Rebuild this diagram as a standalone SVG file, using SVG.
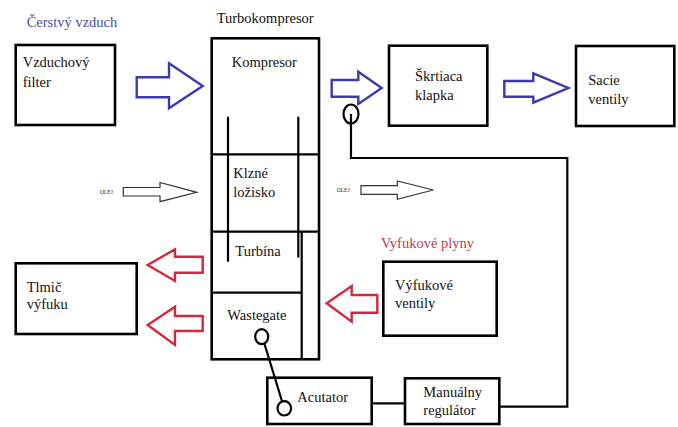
<svg xmlns="http://www.w3.org/2000/svg" width="678" height="427" viewBox="0 0 678 427">
<style>
.box{fill:none;stroke:#000;stroke-width:2.6}
.ln{fill:none;stroke:#000;stroke-width:2.2}
.t{font-family:'Liberation Serif','DejaVu Serif','Times New Roman',serif;font-size:14.5px;fill:#111}
.small{font-family:'Liberation Serif','DejaVu Serif',serif;font-size:5.5px;fill:#222}
.blue{fill:#fff;stroke:#3a3aae;stroke-width:2.4;stroke-linejoin:miter}
.red{fill:#fff;stroke:#d02a3c;stroke-width:2.4;stroke-linejoin:miter}
.oil{fill:#fff;stroke:#333;stroke-width:1.2}
.ring{fill:none;stroke:#000;stroke-width:2.2}
</style>
<rect width="678" height="427" fill="#fff"/>
<text class="t" x="26.7" y="27.3" style="fill:#4b4ba8">Čerstvý vzduch</text>
<text class="t" x="216.7" y="22.7">Turbokompresor</text>
<text class="t" x="381" y="248.3" style="fill:#c23a4a">Vyfukové plyny</text>
<g id="vzduchovy-filter">
<rect class="box" x="15.7" y="45" width="99.3" height="80"/>
<text class="t" x="22.7" y="66.7">Vzduchový</text>
<text class="t" x="22.7" y="87.3">filter</text>
</g>
<g id="turbokompresor">
<rect class="box" x="211.7" y="38.3" width="107.3" height="321"/>
<line class="ln" x1="211.7" y1="154.3" x2="319" y2="154.3"/>
<line class="ln" x1="211.7" y1="231.7" x2="319" y2="231.7"/>
<line class="ln" x1="228" y1="116.7" x2="228" y2="261.7"/>
<line class="ln" x1="298.3" y1="116.7" x2="298.3" y2="257.5"/>
<line class="ln" x1="211.7" y1="292.7" x2="301.7" y2="292.7"/>
<line class="ln" x1="301.7" y1="231.7" x2="301.7" y2="359.3"/>
<text class="t" x="231.7" y="67">Kompresor</text>
<text class="t" x="233.3" y="177.5">Klzné</text>
<text class="t" x="233.3" y="196.5">ložisko</text>
<text class="t" x="235.3" y="256.3">Turbína</text>
<text class="t" x="227.3" y="320">Wastegate</text>
</g>
<g id="skrtiaca-klapka">
<rect class="box" x="389" y="45.7" width="98.3" height="80"/>
<text class="t" x="415" y="81">Škrtiaca</text>
<text class="t" x="415" y="100">klapka</text>
</g>
<g id="sacie-ventily">
<rect class="box" x="576" y="46" width="98.3" height="80"/>
<text class="t" x="588.3" y="85">Sacie</text>
<text class="t" x="588.3" y="104">ventily</text>
</g>
<g id="tlmic-vyfuku">
<rect class="box" x="15.7" y="263.3" width="121" height="70.7"/>
<text class="t" x="26.7" y="291.7">Tlmič</text>
<text class="t" x="26.7" y="309.3">výfuku</text>
</g>
<g id="vyfukove-ventily">
<rect class="box" x="383.3" y="261.7" width="113.4" height="74"/>
<text class="t" x="395" y="290">Výfukové</text>
<text class="t" x="395" y="308.3">ventily</text>
</g>
<g id="acutator">
<rect class="box" x="267.3" y="377.7" width="104.4" height="46.3"/>
<text class="t" x="297.3" y="401.7">Acutator</text>
</g>
<g id="manualny-regulator">
<rect class="box" x="405" y="378.3" width="94.3" height="45.7"/>
<text class="t" x="423.3" y="396.7">Manuálny</text>
<text class="t" x="423.3" y="415">regulátor</text>
</g>
<g id="oil-labels">
<text class="small" x="100" y="194">OLEJ</text>
<text class="small" x="336.7" y="192">OLEJ</text>
</g>
<g id="connectors">
<polygon class="blue" points="136.7,77.3 169,77.3 169,63.3 202.7,86 169,108.3 169,97.3 136.7,97.3"/>
<polygon class="blue" points="331.7,80 358.3,80 358.3,71.7 381.7,88 358.3,104 358.3,96.7 331.7,96.7"/>
<polygon class="blue" points="504.3,81 533.3,81 533.3,73.3 568.3,88 533.3,102.7 533.3,96.7 504.3,96.7"/>
<polygon class="oil" points="123.3,187.5 160,187.5 160,182.5 196.7,192.3 160,201.7 160,196 123.3,196"/>
<polygon class="oil" points="361,185.7 397.3,185.7 397.3,181 433.3,190 397.3,199.3 397.3,194.3 361,194.3"/>
<polygon class="red" points="202.7,256.7 175,256.7 175,249.3 147.7,265 175,281 175,272.7 202.7,272.7"/>
<polygon class="red" points="202.7,316 175,316 175,306.7 147.7,325 175,345 175,331 202.7,331"/>
<polygon class="red" points="377.3,295 351.7,295 351.7,286 326.7,303.3 351.7,321.7 351.7,312.7 377.3,312.7"/>
<ellipse class="ring" cx="351" cy="114" rx="7.5" ry="9.5"/>
<polyline class="ln" points="351,114 351,158 567.3,158 567.3,406.7 499.3,406.7"/>
<line class="ln" x1="371.7" y1="403.3" x2="405" y2="403.3"/>
<ellipse class="ring" cx="261.7" cy="336.7" rx="6.5" ry="7.5"/>
<ellipse class="ring" cx="284.3" cy="408.3" rx="6.8" ry="7.2"/>
<line class="ln" x1="264.5" y1="344" x2="282" y2="401.3"/>
</g>
</svg>
